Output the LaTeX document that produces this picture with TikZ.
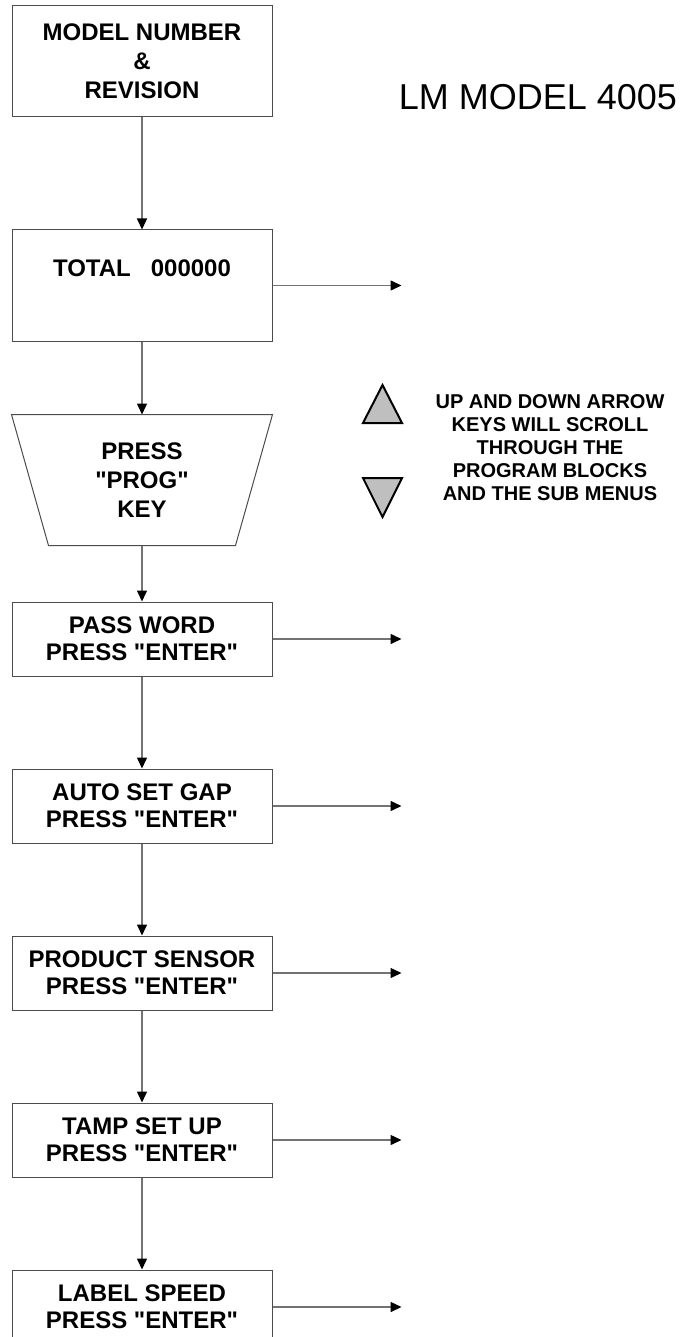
\documentclass[tikz,border=0pt]{standalone}
\usepackage{fontspec}
\setmainfont{Liberation Sans}
\usetikzlibrary{positioning}
\usetikzlibrary{arrows.meta}
\newcommand{\sq}{\textquotedbl}
\tikzset{every picture/.style={x=1pt,y=1pt}}
\tikzset{boxline/.style={draw=black!70,line width=1pt},
  menubox/.style={boxline,align=center,inner sep=0pt,minimum width=260pt,font=\bfseries\fontsize{24}{29}\selectfont},
  bigbox/.style={menubox,minimum height=111pt},
  smallbox/.style={menubox,minimum height=74pt,font=\bfseries\fontsize{24}{27}\selectfont},
  flow/.style={draw=black!55,line width=1.5pt,-{Triangle[color=black,length=11pt,width=10pt]}},
  keytri/.style={fill=black!25,draw=black,line width=2pt}}

\begin{document}
\begin{tikzpicture}
\useasboundingbox (0,0) rectangle (685,-1337);
\node (model) [bigbox] at (142,-61.5) {MODEL NUMBER\\\&\\REVISION};
\node (total) [bigbox, below=112pt of model] {\strut TOTAL\ \ \ 000000\\\strut};
\node (prog) [menubox, draw=none, minimum height=130pt, below=73pt of total] {PRESS\\\sq PROG\sq\\KEY};
\draw[boxline] (prog.north west) -- (prog.north east) -- ([xshift=-37pt]prog.south east) -- ([xshift=37pt]prog.south west) -- cycle;
\node (pass) [smallbox, below=56pt of prog] {PASS WORD\\PRESS \sq ENTER\sq};
\node (auto) [smallbox, below=92pt of pass] {AUTO SET GAP\\PRESS \sq ENTER\sq};
\node (sensor) [smallbox, below=92pt of auto] {PRODUCT SENSOR\\PRESS \sq ENTER\sq};
\node (tamp) [smallbox, below=92pt of sensor] {TAMP SET UP\\PRESS \sq ENTER\sq};
\node (speed) [smallbox, below=92pt of tamp] {LABEL SPEED\\PRESS \sq ENTER\sq};

\node (title) [font=\fontsize{36}{40}\selectfont] at (538,-97) {LM MODEL 4005};
\node (keys) [font=\bfseries\fontsize{20}{23}\selectfont, align=center] at (550,-448) {UP AND DOWN ARROW\\KEYS WILL SCROLL\\THROUGH THE\\PROGRAM BLOCKS\\AND THE SUB MENUS};
\filldraw[keytri] (363,-423) -- (402,-423) -- (382.5,-385) -- cycle;
\filldraw[keytri] (363,-478) -- (402,-478) -- (382.5,-517) -- cycle;

\foreach \a/\b in {model/total,total/prog,prog/pass,pass/auto,auto/sensor,sensor/tamp,tamp/speed}
  \draw[flow] (\a.south) -- (\b.north);
\foreach \n in {total,pass,auto,sensor,tamp,speed} {
  \coordinate (\n-out) at ([xshift=129pt]\n.east);
  \draw[flow] (\n.east) -- (\n-out);
}
\end{tikzpicture}
\end{document}
